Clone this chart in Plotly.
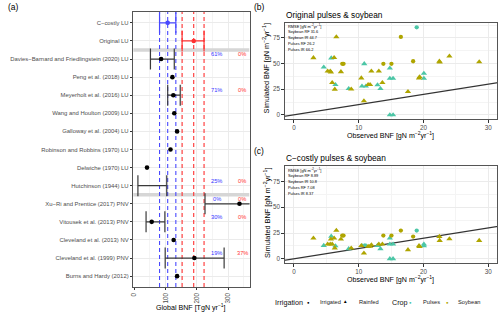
import plotly.graph_objects as go

W, H = 500, 315
def px(x): return x / W
def py(y): return 1 - y / H

FONT = "Liberation Sans, Arial, sans-serif"

# ---------------- panel (a) data ----------------
studies = ["C−costly LU", "Original LU",
           "Davies−Barnard and Friedlingstein (2020) LU", "Peng et al. (2018) LU",
           "Meyerholt et al. (2016) LU", "Wang and Houlton (2009) LU",
           "Galloway et al. (2004) LU", "Robinson and Robbins (1970) LU",
           "Delwiche (1970) LU", "Hutchinson (1944) LU",
           "Xu−Ri and Prentice (2017) PNV", "Vitousek et al. (2013) PNV",
           "Cleveland et al. (2013) NV", "Cleveland et al. (1999) PNV",
           "Burns and Hardy (2012)"]
bnf_mean = [107, 190, 86, 122, 125, 128, 137, 116, 41, None, 336, 56, 126, 192, 137]
bnf_low = [81, 153, 52, None, 107, None, None, None, None, 12, 226, 38, None, 99, None]
bnf_high = [133, 223, 128, None, 147, None, None, None, None, 104, 420, 98, None, 287, None]

pct_studies = ["Davies−Barnard and Friedlingstein (2020) LU", "Meyerholt et al. (2016) LU",
               "Hutchinson (1944) LU", "Xu−Ri and Prentice (2017) PNV",
               "Vitousek et al. (2013) PNV", "Cleveland et al. (1999) PNV"]
pct_ccostly = ["61%", "71%", "25%", "0%", "30%", "19%"]
pct_original = ["0%", "0%", "0%", "0%", "0%", "37%"]

# ---------------- panels (b),(c) data ----------------
crop = ["Soybean", "Pulses", "Soybean", "Soybean", "Soybean", "Pulses", "Soybean", "Soybean",
        "Pulses", "Soybean", "Soybean", "Soybean", "Soybean", "Soybean", "Pulses", "Soybean",
        "Soybean", "Pulses", "Soybean", "Pulses", "Pulses", "Soybean", "Soybean", "Soybean",
        "Pulses", "Soybean", "Pulses", "Soybean", "Soybean", "Pulses", "Pulses", "Soybean",
        "Pulses", "Pulses", "Pulses", "Soybean", "Soybean", "Soybean", "Pulses", "Soybean",
        "Soybean", "Pulses", "Pulses", "Soybean", "Soybean", "Soybean", "Soybean"]
irrigation = ["Rainfed"] * 47
for i in [12, 13, 28, 31, 35, 37, 38]:
    irrigation[i] = "Irrigated"
observed = [3.0, 4.6, 5.2, 5.6, 5.7, 5.75, 6.2, 5.9, 6.4, 6.3, 6.54, 7.25, 7.45, 7.65, 8.45, 8.84,
            10.4, 10.5, 10.8, 10.85, 11.1, 11.45, 11.75, 11.95, 12.9, 13.1, 13.35, 13.65, 13.8,
            14.8, 14.8, 15.05, 15.3, 14.8, 15.3, 16.5, 17.6, 18.4, 18.95, 19.3, 19.4, 20.06,
            20.06, 22.45, 22.5, 24.0, 28.6]
sim_original = [55.6, 46.5, 42.6, 42.6, 41.7, 55.4, 55.8, 31.4, 29.4, 25.0, 76.0, 42.0, 49.8, 49.8,
                25.5, 25.1, 35.9, 28.0, 13.6, 49.8, 28.0, 29.4, 29.4, 42.6, 29.2, 42.6, 25.5,
                31.4, 49.8, 45.5, 35.5, 49.8, 35.5, 0.0, 0.0, 76.0, 22.6, 52.3, 85.4, 35.9,
                37.0, 40.4, 35.5, 52.3, 51.4, 57.2, 51.6]
sim_ccostly = [20.0, 12.9, 14.2, 14.2, 19.0, 21.8, 20.0, 14.2, 12.5, 10.4, 27.5, 19.0, 22.5, 22.5,
               9.7, 10.3, 12.7, 12.7, 5.5, 12.7, 12.7, 12.0, 12.0, 13.5, 12.9, 14.2, 9.7, 14.2,
               22.5, 20.0, 14.2, 22.5, 14.2, 0.0, 0.0, 27.4, 8.7, 21.6, 27.4, 12.6, 11.9, 14.2,
               12.6, 21.6, 17.7, 19.3, 17.7]
one_to_one = [-5, 40]
rmse_original = ["Soybean RF 31.6", "Soybean IR 44.7", "Pulses RF 26.2", "Pulses IR 66.2"]
rmse_ccostly = ["Soybean RF 8.89", "Soybean IR 10.8", "Pulses RF 7.08", "Pulses IR 8.37"]

crop_colors = {"Pulses": "#4cc6a6", "Soybean": "#afa500"}
irr_symbols = {"Irrigated": "circle", "Rainfed": "triangle-up"}
irr_sizes = {"Irrigated": 4.3, "Rainfed": 5.5}
BLUE, RED = "#4848ff", "#ff3030"

XR_A = [-3, 368]
fig = go.Figure()

# ---------------- panel (a) traces ----------------
nrow = len(studies)
YR_A = [-0.6, nrow - 0.4]
ypos = {s: nrow - 1 - i for i, s in enumerate(studies)}

def bars(idx, color):
    lx, ly, cx, cy = [], [], [], []
    for i in idx:
        if bnf_low[i] is None:
            continue
        y = ypos[studies[i]]
        lx += [bnf_low[i], bnf_high[i], None]
        ly += [y, y, None]
        cx += [bnf_low[i], bnf_high[i]]
        cy += [y, y]
    fig.add_trace(go.Scatter(x=lx, y=ly, mode="lines", line=dict(color=color, width=1.2),
                             xaxis="x", yaxis="y", hoverinfo="skip", showlegend=False))
    fig.add_trace(go.Scatter(x=cx, y=cy, mode="markers", xaxis="x", yaxis="y",
                             marker=dict(symbol="line-ns-open", size=15, color=color,
                                         line=dict(color=color, width=1.2)),
                             hoverinfo="skip", showlegend=False))

def points(idx, color):
    xs = [bnf_mean[i] for i in idx if bnf_mean[i] is not None]
    ys = [ypos[studies[i]] for i in idx if bnf_mean[i] is not None]
    fig.add_trace(go.Scatter(x=xs, y=ys, mode="markers", xaxis="x", yaxis="y",
                             marker=dict(color=color, size=4.6), showlegend=False))

shapes = []
# separator bands
for yb in [ypos[studies[1]] - 0.5, ypos[studies[9]] - 0.5]:
    shapes.append(dict(type="line", xref="x", yref="y", x0=XR_A[0], x1=XR_A[1], y0=yb, y1=yb,
                       line=dict(color="#d6d6d6", width=3.5), layer="between"))
# dashed reference lines from model ranges
for i, col in [(0, BLUE), (1, RED)]:
    for v in [bnf_low[i], bnf_mean[i], bnf_high[i]]:
        shapes.append(dict(type="line", xref="x", yref="y", x0=v, x1=v, y0=YR_A[0], y1=YR_A[1],
                           line=dict(color=col, width=1.1, dash="4px,3px"), layer="between"))

bars(list(range(2, nrow)), "#3a3a3a")
bars([0], BLUE)
bars([1], RED)
points(list(range(2, nrow)), "black")
points([0], BLUE)
points([1], RED)

annotations = []
for s, a, b in zip(pct_studies, pct_ccostly, pct_original):
    annotations.append(dict(x=263, y=ypos[s] + 0.27, xref="x", yref="y", text=a, showarrow=False,
                            font=dict(size=5.7, color="#3535ff", family=FONT)))
    annotations.append(dict(x=345, y=ypos[s] + 0.27, xref="x", yref="y", text=b, showarrow=False,
                            font=dict(size=5.7, color="#ff3535", family=FONT)))

# ---------------- panels (b),(c) traces ----------------
for xa, ya, sim in [("x2", "y2", sim_original), ("x3", "y3", sim_ccostly)]:
    fig.add_trace(go.Scatter(x=one_to_one, y=one_to_one, mode="lines", xaxis=xa, yaxis=ya,
                             line=dict(color="#333333", width=1.2), showlegend=False,
                             hoverinfo="skip"))
    for c in ["Pulses", "Soybean"]:
        for irr in ["Rainfed", "Irrigated"]:
            idx = [i for i in range(len(observed)) if crop[i] == c and irrigation[i] == irr]
            fig.add_trace(go.Scatter(
                x=[observed[i] for i in idx], y=[sim[i] for i in idx], mode="markers",
                xaxis=xa, yaxis=ya, showlegend=False,
                marker=dict(color=crop_colors[c], symbol=irr_symbols[irr], size=irr_sizes[irr])))

# ---------------- axes ----------------
grid = "#ebebeb"
minor_grid = "#f4f4f4"
border = "#555555"

def common(fs=6.3):
    return dict(showline=True, mirror=True, linecolor=border, linewidth=0.8, zeroline=False,
                gridcolor=grid, gridwidth=0.8, ticks="outside", ticklen=2.5, tickcolor="#333333",
                tickwidth=0.6, tickfont=dict(size=fs, color="#4d4d4d", family=FONT))

fig.update_layout(
    width=W, height=H, margin=dict(l=0, r=0, t=0, b=0),
    plot_bgcolor="white", paper_bgcolor="white",
    xaxis=dict(domain=[px(131), px(248)], anchor="y", range=XR_A,
               tickvals=[0, 100, 200, 300], tickangle=-90,
               minor=dict(tickvals=[50, 150, 250, 350], showgrid=True, gridcolor=minor_grid,
                          gridwidth=0.5, ticks=""), **common()),
    yaxis=dict(domain=[py(287), py(12)], anchor="x", range=YR_A,
               tickvals=[ypos[s] for s in studies], ticktext=studies, **common(5.9)),
    xaxis2=dict(domain=[px(283.3), px(497)], anchor="y2", range=[-1.45, 31.35],
                tickvals=[0, 10, 20, 30],
                minor=dict(tickvals=[5, 15, 25], showgrid=True, gridcolor=minor_grid,
                           gridwidth=0.5, ticks=""), **common()),
    yaxis2=dict(domain=[py(119.3), py(22.7)], anchor="x2", range=[-4.3, 89.9],
                tickvals=[0, 25, 50, 75],
                minor=dict(tickvals=[12.5, 37.5, 62.5, 87.5], showgrid=True,
                           gridcolor=minor_grid, gridwidth=0.5, ticks=""), **common()),
    xaxis3=dict(domain=[px(283.3), px(497)], anchor="y3", range=[-1.45, 31.35],
                tickvals=[0, 10, 20, 30],
                minor=dict(tickvals=[5, 15, 25], showgrid=True, gridcolor=minor_grid,
                           gridwidth=0.5, ticks=""), **common()),
    yaxis3=dict(domain=[py(263.3), py(166)], anchor="x3", range=[-4.3, 89.9],
                tickvals=[0, 25, 50, 75],
                minor=dict(tickvals=[12.5, 37.5, 62.5, 87.5], showgrid=True,
                           gridcolor=minor_grid, gridwidth=0.5, ticks=""), **common()),
    shapes=shapes,
)

def ann(x, y, text, size, color="black", xanchor="left", yanchor="middle", angle=0):
    annotations.append(dict(x=px(x), y=py(y), xref="paper", yref="paper", text=text,
                            showarrow=False, xanchor=xanchor, yanchor=yanchor, textangle=angle,
                            font=dict(size=size, color=color, family=FONT)))

unit = "[gN m<sup>−2</sup>yr<sup>−1</sup>]"
ann(3, 7, "(a)", 8.5)
ann(251, 7, "(b)", 8.5)
ann(251, 151, "(c)", 8.5)
ann(283, 14.5, "Original pulses &amp; soybean", 8.3)
ann(283, 158, "C−costly pulses &amp; soybean", 8.3)
ann(189, 307, "Global BNF [TgN yr<sup>−1</sup>]", 7.1, xanchor="center")
ann(390, 135, "Observed BNF " + unit, 7.1, xanchor="center")
ann(390, 279, "Observed BNF " + unit, 7.1, xanchor="center")
ann(265, 68, "Simulated BNF " + unit, 7.3, xanchor="center", angle=-90)
ann(265, 212.5, "Simulated BNF " + unit, 7.3, xanchor="center", angle=-90)

for top, lines in [(25.5, rmse_original), (169.5, rmse_ccostly)]:
    ann(285, top, "RMSE " + unit, 3.9)
    for k, t in enumerate(lines):
        ann(285, top + 5.9 * (k + 1), t, 3.9)

# legend
ann(272, 302, "Irrigation", 7.2, color="#111111")
ann(307.7, 302, "●", 4.2, xanchor="center")
ann(317, 302, "Irrigated", 5.7, color="#222222")
ann(345, 301.6, "▲", 4.6, xanchor="center")
ann(356, 302, "Rainfed", 5.7, color="#222222")
ann(389, 302, "Crop", 7.2, color="#111111")
ann(409.5, 302, "●", 4.2, color=crop_colors["Pulses"], xanchor="center")
ann(421, 302, "Pulses", 5.7, color="#222222")
ann(447, 302, "●", 4.2, color=crop_colors["Soybean"], xanchor="center")
ann(456, 302, "Soybean", 5.7, color="#222222")

fig.update_layout(annotations=annotations)
fig.write_html("out.html", config={"displayModeBar": False},
               post_script="document.body.style.margin='0px';document.body.style.padding='0px';")
